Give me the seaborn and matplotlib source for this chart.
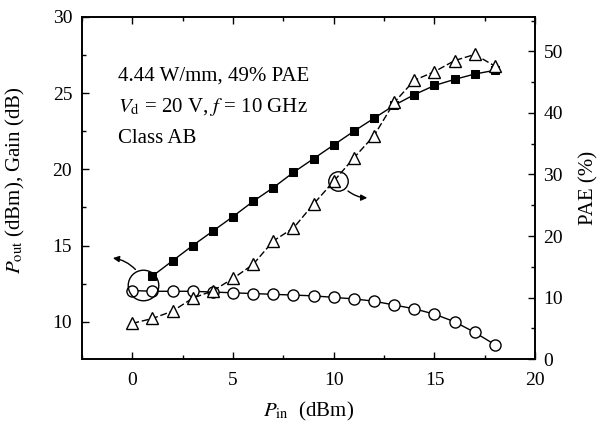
import numpy as np
import pandas as pd
import matplotlib
matplotlib.use("Agg")
import matplotlib.pyplot as plt
import seaborn as sns
from matplotlib.ticker import MultipleLocator

pin = [0, 1, 2, 3, 4, 5, 6, 7, 8, 9, 10, 11, 12, 13, 14, 15, 16, 17, 18]
pout_x = [1, 2, 3, 4, 5, 6, 7, 8, 9, 10, 11, 12, 13, 14, 15, 16, 17, 18]
pout = [13.0, 14.0, 15.0, 15.95, 16.9, 17.9, 18.8, 19.8, 20.7, 21.6, 22.5, 23.35,
        24.2, 24.9, 25.5, 25.9, 26.25, 26.5]
gain = [12.05, 12.0, 12.0, 12.0, 11.95, 11.9, 11.85, 11.8, 11.75, 11.7, 11.6, 11.5,
        11.35, 11.1, 10.85, 10.5, 10.0, 9.3, 8.5]
pae = [5.8, 6.6, 7.8, 9.9, 11.1, 13.1, 15.4, 19.2, 21.3, 25.2, 28.9, 32.7, 36.3,
       41.7, 45.3, 46.7, 48.5, 49.5, 47.6]

sns.set_style("ticks")
plt.rcParams['font.family'] = ['Liberation Serif', 'DejaVu Serif']
plt.rcParams['mathtext.fontset'] = 'stix'
plt.rcParams['text.color'] = 'black'
plt.rcParams['axes.labelcolor'] = 'black'
plt.rcParams['axes.edgecolor'] = 'black'
plt.rcParams['xtick.color'] = 'black'
plt.rcParams['ytick.color'] = 'black'

fig = plt.figure(figsize=(5.98, 4.22), dpi=100)
ax = fig.add_axes([0.137, 0.149, 0.758, 0.811])
ax2 = ax.twinx()

df_pout = pd.DataFrame({"x": pout_x, "y": pout})
df_gain = pd.DataFrame({"x": pin, "y": gain})
df_pae = pd.DataFrame({"x": pin, "y": pae})

sns.lineplot(data=df_pout, x="x", y="y", ax=ax, color="black", lw=1.0,
             marker="s", markersize=6, markerfacecolor="black", markeredgecolor="black")
sns.lineplot(data=df_gain, x="x", y="y", ax=ax, color="black", lw=1.0,
             marker="o", markersize=8, markerfacecolor="white", markeredgecolor="black",
             markeredgewidth=1.0)
sns.lineplot(data=df_pae, x="x", y="y", ax=ax2, color="black", lw=1.0,
             marker="^", markersize=9, markerfacecolor="white", markeredgecolor="black",
             markeredgewidth=1.0)
ax2.lines[0].set_dashes([5, 2])

ax.set_xlim(-2.5, 20)
ax.set_ylim(7.55, 30)
ax2.set_ylim(0, 55.6)

ax.xaxis.set_major_locator(MultipleLocator(5))
ax.xaxis.set_minor_locator(MultipleLocator(2.5))
ax.yaxis.set_major_locator(MultipleLocator(5))
ax.yaxis.set_minor_locator(MultipleLocator(2.5))
ax2.yaxis.set_major_locator(MultipleLocator(10))
ax2.yaxis.set_minor_locator(MultipleLocator(5))

for a in (ax, ax2):
    for s in a.spines.values():
        s.set_linewidth(1.2)
        s.set_visible(True)
ax.tick_params(which="both", direction="in", top=True, right=False, labelsize=14, width=1.0)
ax.tick_params(which="major", length=5)
ax.tick_params(which="minor", length=3)
ax.tick_params(axis="x", which="both", pad=9)
ax.tick_params(axis="y", which="both", pad=7)
ax2.tick_params(which="both", direction="in", labelsize=14, width=1.0, pad=6)
ax2.tick_params(which="major", length=5)
ax2.tick_params(which="minor", length=3)

ax.set_xlabel(r"$P_{\mathrm{in}}$  (dBm)", fontsize=15)
ax.set_ylabel(r"$P_{\mathrm{out}}$ (dBm), Gain (dB)", fontsize=15)
ax2.set_ylabel("PAE (%)", fontsize=15)
ax.xaxis.set_label_coords(0.5, -0.12)
ax.yaxis.set_label_coords(-0.121, 0.523)
ax2.yaxis.set_label_coords(1.097, 0.5)

ax.text(-0.7, 26.1, "4.44 W/mm, 49% PAE", fontsize=15, va="center", ha="left")
ax.text(-0.7, 24.1, r"$V_{\mathrm{d}}$ = 20 V, $f$ = 10 GHz", fontsize=15, va="center", ha="left")
ax.text(-0.7, 22.0, "Class AB", fontsize=15, va="center", ha="left")

# annotation circles and arrows
ax.plot([0.55], [12.4], marker="o", markersize=22, markerfacecolor="none",
        markeredgecolor="black", markeredgewidth=1.0)
ax.annotate("", xy=(-1.1, 14.2), xytext=(0.25, 13.3),
            arrowprops=dict(arrowstyle="-|>", color="black", lw=1.0,
                            connectionstyle="arc3,rad=0.2", mutation_scale=9))
ax2.plot([10.2], [29.0], marker="o", markersize=14, markerfacecolor="none",
         markeredgecolor="black", markeredgewidth=1.0)
ax2.annotate("", xy=(11.8, 26.2), xytext=(10.6, 27.6),
             arrowprops=dict(arrowstyle="-|>", color="black", lw=1.0,
                             connectionstyle="arc3,rad=0.2", mutation_scale=9))

fig.savefig("out.png", dpi=100)
